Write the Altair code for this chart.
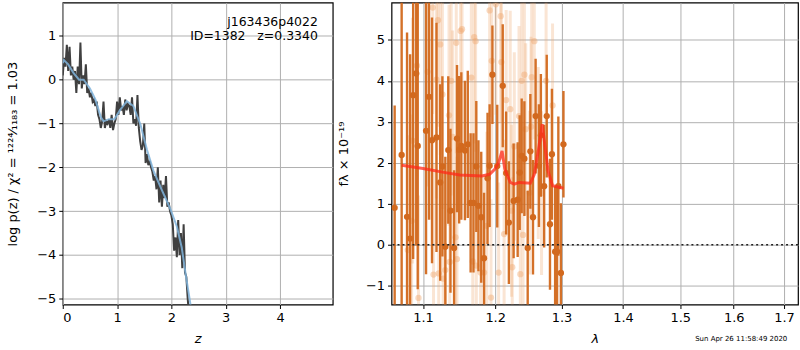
import altair as alt
import pandas as pd

# ---------------- Left panel: log p(z) ----------------
z_noisy = [0.00, 0.025, 0.05, 0.075, 0.10, 0.125, 0.15, 0.175, 0.20, 0.225, 0.25, 0.275, 0.30, 0.325,
           0.35, 0.375, 0.40, 0.425, 0.45, 0.475, 0.50, 0.525, 0.55, 0.575, 0.60, 0.625, 0.65, 0.675,
           0.70, 0.725, 0.75, 0.775, 0.80, 0.825, 0.85, 0.875, 0.90, 0.925, 0.95, 0.975, 1.00, 1.025,
           1.05, 1.075, 1.10, 1.125, 1.15, 1.175, 1.20, 1.225, 1.25, 1.275, 1.30, 1.325, 1.35, 1.375,
           1.40, 1.425, 1.45, 1.475, 1.50, 1.525, 1.55, 1.575, 1.60, 1.625, 1.65, 1.675, 1.70, 1.725,
           1.75, 1.775, 1.80, 1.825, 1.85, 1.875, 1.90, 1.925, 1.95, 1.975, 2.00, 2.025, 2.05, 2.075,
           2.10, 2.125, 2.15, 2.175, 2.20, 2.225, 2.25, 2.275, 2.30, 2.32]
logp_noisy = [0.1, 0.5, 0.3, 0.8, 0.2, 0.75, 0.1, 0.3, 0.0, 0.2, -0.3, 0.3, -0.1, 0.85,
              -0.2, 0.1, -0.1, 0.35, -0.3, -0.2, -0.4, -0.3, -0.5, -0.45, -0.6, -0.5, -0.8, -0.9,
              -1.1, -0.95, -0.5, -1.1, -0.95, -1.0, -0.9, -1.1, -0.8, -1.15, -1.0, -0.9, -0.5, -0.8,
              -0.4, -0.7, -0.6, -0.8, -0.45, -0.7, -0.55, -0.6, -0.8, -0.4, -1.0, -0.9, -1.05, -0.35,
              -1.1, -1.4, -1.6, -1.5, -1.0, -1.9, -1.7, -1.95, -1.85, -2.0, -2.1, -2.3, -2.2, -2.5,
              -2.0, -2.8, -2.3, -2.9, -2.4, -2.7, -2.2, -2.9, -2.8, -3.0, -3.1, -3.3, -3.9, -3.6,
              -4.05, -3.2, -4.0, -3.5, -4.3, -3.3, -4.4, -4.5, -5.0, -5.3]

z_smooth = [0.0, 0.02, 0.1, 0.2, 0.3, 0.385, 0.5, 0.6, 0.7, 0.75, 0.85, 0.95, 1.05, 1.18, 1.3,
            1.43, 1.55, 1.67, 1.8, 1.98, 2.1, 2.19, 2.27, 2.34, 2.37]
logp_smooth = [0.38, 0.45, 0.35, 0.15, 0.0, 0.0, -0.2, -0.45, -0.85, -0.95, -0.9, -0.9, -0.7, -0.49, -0.6,
               -1.02, -1.6, -2.08, -2.45, -2.95, -3.35, -3.83, -4.5, -5.04, -5.3]

# ---------------- Right panel: spectrum ----------------
lam_dark = [1.063, 1.072, 1.079, 1.083, 1.087, 1.091, 1.093, 1.104, 1.108, 1.112, 1.118, 1.123, 1.126,
            1.130, 1.134, 1.137, 1.142, 1.146, 1.149, 1.152, 1.157, 1.161, 1.165, 1.169, 1.173, 1.176,
            1.180, 1.184, 1.189, 1.192, 1.196, 1.203, 1.211, 1.216, 1.220, 1.227, 1.233, 1.236, 1.239,
            1.243, 1.248, 1.252, 1.256, 1.260, 1.265, 1.268, 1.273, 1.277, 1.282, 1.285, 1.290, 1.293,
            1.295, 1.299, 1.303]
flux_dark = [0.9, 2.19, 0.68, 0.15, 3.65, 4.18, 2.41, 2.78, 3.61, 2.55, 2.62, 1.52, 1.91,
             -0.05, 2.31, 0.83, -0.08, 2.59, 2.32, 2.41, 2.30, 2.45, 1.02, 1.02, 1.91, 0.95,
             0.67, -0.33, 1.62, 1.93, 4.15, 1.92, 3.88, 1.75, 0.54, 1.07, 1.10, 1.76, 2.17,
             2.10, -0.08, 2.28, 0.67, 3.14, 1.93, 2.67, 1.43, 3.14, 0.50, 2.21, -0.17, -0.17,
             1.43, -0.69, 2.45]
err_dark = [2.5, 4.0, 4.5, 4.5, 4.0, 4.2, 3.5, 3.5, 3.0, 3.0, 2.8, 2.4, 2.2,
            2.2, 1.8, 2.0, 1.9, 1.8, 1.8, 1.8, 1.7, 1.8, 1.7, 1.7, 1.6, 1.6,
            1.6, 1.6, 1.6, 1.5, 1.2, 1.5, 1.5, 1.5, 1.5, 1.4, 1.4, 1.4, 1.4,
            1.4, 1.4, 1.4, 1.4, 1.4, 1.5, 1.5, 1.5, 1.5, 1.6, 1.6, 1.6, 1.6,
            1.7, 1.7, 1.3]

lam_light = [1.080, 1.085, 1.086, 1.092, 1.094, 1.106, 1.113, 1.114, 1.118, 1.120, 1.121, 1.123, 1.126,
             1.127, 1.130, 1.135, 1.136, 1.138, 1.140, 1.144, 1.145, 1.146, 1.151, 1.153, 1.166, 1.168,
             1.170, 1.172, 1.173, 1.179, 1.184, 1.188, 1.192, 1.194, 1.195, 1.201, 1.205, 1.208, 1.209,
             1.213, 1.216, 1.222, 1.224, 1.225, 1.228, 1.235, 1.237, 1.239, 1.241, 1.243, 1.245, 1.251,
             1.253, 1.254, 1.258, 1.264, 1.269, 1.276, 1.286]
flux_light = [-0.13, 0.58, 2.54, 4.37, -1.30, 4.22, 5.79, -0.73, 4.03, 5.48, -0.70, 4.89, 3.67,
              -0.83, -0.62, 3.16, -0.42, 4.00, 2.63, 0.18, 4.93, -0.35, 5.22, 5.26, 4.08, -0.41,
              5.07, 4.97, -0.51, -0.68, -0.68, 0.46, 5.72, -1.29, 4.49, 5.87, -0.68, 5.58, 4.46,
              0.26, 3.53, 3.31, 0.83, -0.55, 2.40, 3.14, -0.72, 4.00, 0.24, 4.15, 2.82, 1.27,
              2.88, 4.09, 4.97, 2.24, 1.26, 4.00, 3.40]
err_light = [2.8, 2.6, 3.0, 2.7, 2.5, 2.8, 2.6, 2.7, 2.9, 2.6, 2.5, 2.7, 2.8,
             2.4, 2.6, 2.7, 2.5, 2.8, 2.6, 2.4, 2.7, 2.5, 2.6, 2.8, 2.5, 2.4,
             2.6, 2.7, 2.3, 2.5, 2.4, 2.3, 2.6, 2.4, 2.5, 2.7, 2.2, 2.6, 2.4,
             2.3, 2.2, 2.4, 2.1, 2.2, 2.3, 2.2, 2.1, 2.4, 2.0, 2.2, 2.1, 2.0,
             2.2, 2.3, 2.4, 2.1, 2.0, 2.2, 2.0]

lam_model = [1.072, 1.100, 1.130, 1.150, 1.181, 1.192, 1.200, 1.205, 1.210, 1.214, 1.222, 1.228,
             1.235, 1.252, 1.258, 1.264, 1.270, 1.274, 1.279, 1.286, 1.303]
flux_model = [1.94, 1.86, 1.76, 1.70, 1.68, 1.72, 1.85, 2.0, 2.29, 1.85, 1.52, 1.48,
              1.52, 1.50, 1.72, 2.29, 2.94, 2.45, 1.80, 1.44, 1.38]

xticks_left = [0, 1, 2, 3, 4]
yticks_left = [-5, -4, -3, -2, -1, 0, 1]
xticks_right = [1.1, 1.2, 1.3, 1.4, 1.5, 1.6, 1.7]
yticks_right = [-1, 0, 1, 2, 3, 4, 5]

FONT = "DejaVu Sans"
GRID = "#b0b0b0"
DARK_OR = "#d2691e"
LIGHT_OR = "#f0a872"

df_noisy = pd.DataFrame({"z": z_noisy, "logp": logp_noisy})
df_smooth = pd.DataFrame({"z": z_smooth, "logp": logp_smooth})
df_dark = pd.DataFrame({"lam": lam_dark, "flux": flux_dark, "err": err_dark})
df_light = pd.DataFrame({"lam": lam_light, "flux": flux_light, "err": err_light})
df_model = pd.DataFrame({"lam": lam_model, "flux": flux_model})

# left
xl = alt.X("z:Q", scale=alt.Scale(domain=[0, 4.97], nice=False, zero=False),
           axis=alt.Axis(values=xticks_left, title="z", titleFontStyle="italic", titlePadding=8))
yl = alt.Y("logp:Q", scale=alt.Scale(domain=[-5.13, 1.76], nice=False, zero=False),
           axis=alt.Axis(values=yticks_left, title="log p(z) / χ² = ¹²²⁴⁄₁₁₈₃ = 1.03", titlePadding=17))

noisy = alt.Chart(df_noisy).mark_line(color="#404040", strokeWidth=2, clip=True).encode(x=xl, y=yl)
smooth = alt.Chart(df_smooth).mark_line(color="#80b4dc", strokeWidth=2, opacity=0.85, clip=True).encode(x=xl, y=yl)
t1 = alt.Chart(pd.DataFrame({"t": ["j163436p4022"]})).mark_text(
    align="right", baseline="middle", fontSize=12.5, font=FONT, color="black").encode(
    text="t:N", x=alt.value(256), y=alt.value(19))
t2 = alt.Chart(pd.DataFrame({"t": ["ID=1382\u00a0\u00a0\u00a0z=0.3340"]})).mark_text(
    align="right", baseline="middle", fontSize=12.5, font=FONT, color="black").encode(
    text="t:N", x=alt.value(256), y=alt.value(34))
left = alt.layer(noisy, smooth, t1, t2).properties(width=271, height=303)

# right
xr_scale = alt.Scale(type="log", domain=[1.059, 1.729], nice=False)
yr_scale = alt.Scale(domain=[-1.46, 5.91], nice=False, zero=False)
xr_axis = alt.Axis(values=xticks_right, format=".1f", title="λ", titleFontStyle="italic", titlePadding=8)
yr_axis = alt.Axis(values=yticks_right, title="fλ × 10⁻¹⁹", titlePadding=15)

base_light = alt.Chart(df_light).transform_calculate(lo="datum.flux - datum.err", hi="datum.flux + datum.err")
light_bars = base_light.mark_rule(color=LIGHT_OR, strokeWidth=3, opacity=0.3, clip=True).encode(
    x=alt.X("lam:Q", scale=xr_scale, axis=xr_axis), y=alt.Y("lo:Q", scale=yr_scale, axis=yr_axis), y2="hi:Q")
light_pts = alt.Chart(df_light).mark_circle(color=LIGHT_OR, size=40, opacity=0.45, clip=True).encode(
    x=alt.X("lam:Q", scale=xr_scale), y=alt.Y("flux:Q", scale=yr_scale))

base_dark = alt.Chart(df_dark).transform_calculate(lo="datum.flux - datum.err", hi="datum.flux + datum.err")
dark_bars = base_dark.mark_rule(color=DARK_OR, strokeWidth=2.4, opacity=0.95, clip=True).encode(
    x=alt.X("lam:Q", scale=xr_scale), y=alt.Y("lo:Q", scale=yr_scale), y2="hi:Q")
dark_pts = alt.Chart(df_dark).mark_circle(color=DARK_OR, size=40, opacity=1, clip=True).encode(
    x=alt.X("lam:Q", scale=xr_scale), y=alt.Y("flux:Q", scale=yr_scale))

model = alt.Chart(df_model).mark_line(color="#ff2a1a", strokeWidth=3, opacity=0.75, clip=True).encode(
    x=alt.X("lam:Q", scale=xr_scale), y=alt.Y("flux:Q", scale=yr_scale))

zero = alt.Chart(pd.DataFrame({"y": [0]})).mark_rule(color="#222222", strokeWidth=1.6, strokeDash=[2, 3]).encode(
    y=alt.Y("y:Q", scale=yr_scale))

stamp = alt.Chart(pd.DataFrame({"t": ["Sun Apr 26 11:58:49 2020"]})).mark_text(
    align="center", baseline="middle", fontSize=7, font=FONT, color="black").encode(
    text="t:N", x=alt.value(351), y=alt.value(338))

right = alt.layer(light_bars, light_pts, dark_bars, dark_pts, model, zero, stamp).properties(width=408, height=303)

chart = alt.hconcat(left, right, spacing=3).properties(
    padding={"left": 6, "top": 1, "right": 0, "bottom": 0}, background="white"
).configure_view(stroke="black", strokeWidth=1.2).configure_axis(
    grid=True, gridColor=GRID, gridWidth=1, domain=False, tickColor="black", tickSize=4,
    labelColor="black", labelFont=FONT, labelFontSize=13, labelPadding=3,
    titleFont=FONT, titleFontSize=13, titleFontWeight="normal", titleColor="black"
)

chart.save("out.html", embed_options={"renderer": "svg", "actions": False})
